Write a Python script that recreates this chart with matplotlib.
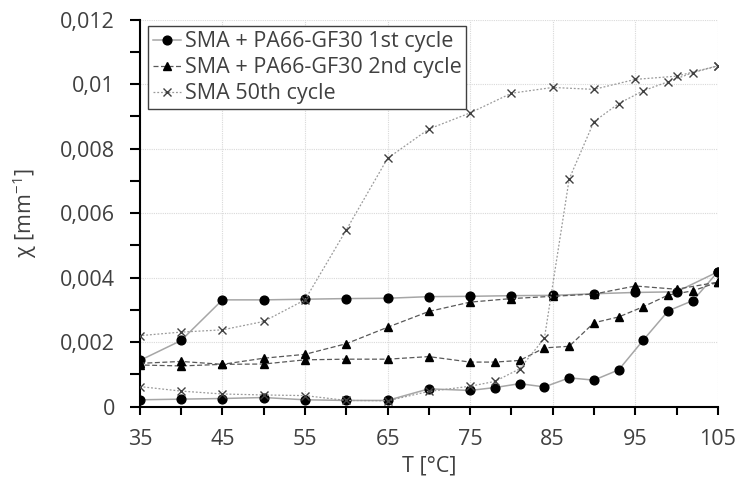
import matplotlib
matplotlib.use("Agg")
import matplotlib.pyplot as plt
from matplotlib.ticker import MultipleLocator

plt.rcParams['font.family'] = ['Open Sans', 'DejaVu Sans']
plt.rcParams['mathtext.fontset'] = 'custom'
plt.rcParams['mathtext.rm'] = 'Open Sans'
plt.rcParams['mathtext.default'] = 'regular'

# ---------------- data ----------------
# SMA + PA66-GF30 1st cycle (heating then cooling)
t1_heat = [35, 40, 45, 50, 55, 60, 65, 70, 75, 78, 81, 84, 87, 90, 93, 96, 99, 102, 105]
chi1_heat = [0.00021, 0.00023, 0.00025, 0.00028, 0.00021, 0.00019, 0.00019, 0.00055, 0.00050,
             0.00059, 0.00071, 0.00061, 0.00089, 0.00082, 0.00114, 0.00207, 0.00297, 0.00329, 0.00418]
t1_cool = [105, 100, 95, 90, 85, 80, 75, 70, 65, 60, 55, 50, 45, 40, 35]
chi1_cool = [0.00418, 0.00356, 0.00354, 0.00350, 0.00345, 0.00344, 0.00342, 0.00341, 0.00336,
             0.00335, 0.00333, 0.00331, 0.00331, 0.00205, 0.00143]

# SMA + PA66-GF30 2nd cycle
t2_heat = [35, 40, 45, 50, 55, 60, 65, 70, 75, 78, 81, 84, 87, 90, 93, 96, 99, 102, 105]
chi2_heat = [0.00134, 0.00140, 0.00131, 0.00132, 0.00145, 0.00147, 0.00147, 0.00155, 0.00138,
             0.00138, 0.00143, 0.00182, 0.00187, 0.00260, 0.00278, 0.00310, 0.00346, 0.00359, 0.00386]
t2_cool = [105, 100, 95, 90, 85, 80, 75, 70, 65, 60, 55, 50, 45, 40, 35]
chi2_cool = [0.00386, 0.00364, 0.00374, 0.00349, 0.00342, 0.00335, 0.00324, 0.00295, 0.00246,
             0.00195, 0.00162, 0.00150, 0.00131, 0.00126, 0.00129]

# SMA 50th cycle
t3_heat = [35, 40, 45, 50, 55, 60, 65, 70, 75, 78, 81, 84, 87, 90, 93, 96, 99, 102, 105]
chi3_heat = [0.00062, 0.00048, 0.00039, 0.00036, 0.00034, 0.00019, 0.00018, 0.00047, 0.00063,
             0.00078, 0.00117, 0.00212, 0.00706, 0.00884, 0.00940, 0.00980, 0.01008, 0.01036, 0.01057]
t3_cool = [105, 100, 95, 90, 85, 80, 75, 70, 65, 60, 55, 50, 45, 40, 35]
chi3_cool = [0.01057, 0.01025, 0.01015, 0.00984, 0.00990, 0.00972, 0.00911, 0.00861, 0.00770,
             0.00548, 0.00331, 0.00264, 0.00238, 0.00231, 0.00220]

labels = ["SMA + PA66-GF30 1st cycle", "SMA + PA66-GF30 2nd cycle", "SMA 50th cycle"]
x_ticks = [35, 45, 55, 65, 75, 85, 95, 105]
y_ticks = [0, 0.002, 0.004, 0.006, 0.008, 0.01, 0.012]
y_tick_labels = ["0", "0,002", "0,004", "0,006", "0,008", "0,01", "0,012"]

# ---------------- figure ----------------
fig = plt.figure(figsize=(7.4, 4.94), dpi=100)
ax = fig.add_subplot(111)
fig.subplots_adjust(left=0.189, right=0.970, bottom=0.177, top=0.960)

styles = [
    dict(color='#a6a6a6', linestyle='-', linewidth=1.1, marker='o', markersize=6.3,
         markerfacecolor='black', markeredgecolor='black'),
    dict(color='#595959', linestyle=(0, (4, 2)), linewidth=0.9, marker='^', markersize=5.3,
         markerfacecolor='black', markeredgecolor='black'),
    dict(color='#9a9a9a', linestyle=(0, (1.5, 1.5)), linewidth=0.9, marker='x', markersize=5.3,
         markerfacecolor='#404040', markeredgecolor='#404040', markeredgewidth=1.0),
]
series = [(t1_heat + t1_cool, chi1_heat + chi1_cool),
          (t2_heat + t2_cool, chi2_heat + chi2_cool),
          (t3_heat + t3_cool, chi3_heat + chi3_cool)]

for (t, c), st, lab in zip(series, styles, labels):
    ax.plot(t, c, label=lab, zorder=3, **st)

ax.set_xlim(35, 105)
ax.set_ylim(0, 0.012)
ax.set_xticks(x_ticks)
ax.set_yticks(y_ticks)
ax.set_yticklabels(y_tick_labels)
ax.xaxis.set_minor_locator(MultipleLocator(5))
ax.yaxis.set_minor_locator(MultipleLocator(0.001))

ax.grid(True, which='major', color='#d9d9d9', linestyle=(0, (1, 1)), linewidth=0.8, zorder=0)
for s in ['top', 'right']:
    ax.spines[s].set_visible(False)
for s in ['left', 'bottom']:
    ax.spines[s].set_linewidth(1.5)
    ax.spines[s].set_color('black')

ax.tick_params(axis='both', which='both', direction='out', width=1.5, color='black',
               labelsize=15.5, labelcolor='#404040')
ax.tick_params(axis='y', which='both', length=7, pad=11)
ax.tick_params(axis='x', which='both', length=6, pad=10)

ax.set_xlabel("T [°C]", fontsize=15.5, color='#404040', labelpad=4)
ax.set_ylabel("χ [mm$^{-1}$]", fontsize=15.5, color='#404040', labelpad=15)

leg = ax.legend(loc='upper left', bbox_to_anchor=(0.014, 0.983), fontsize=15.5,
                frameon=True, fancybox=False, edgecolor='#404040', framealpha=1,
                handlelength=1.3, handletextpad=0.2, labelspacing=0.24, borderpad=0.22,
                borderaxespad=0)
leg.get_frame().set_linewidth(1.0)
for txt in leg.get_texts():
    txt.set_color('#404040')

fig.savefig("out.png", dpi=100)
